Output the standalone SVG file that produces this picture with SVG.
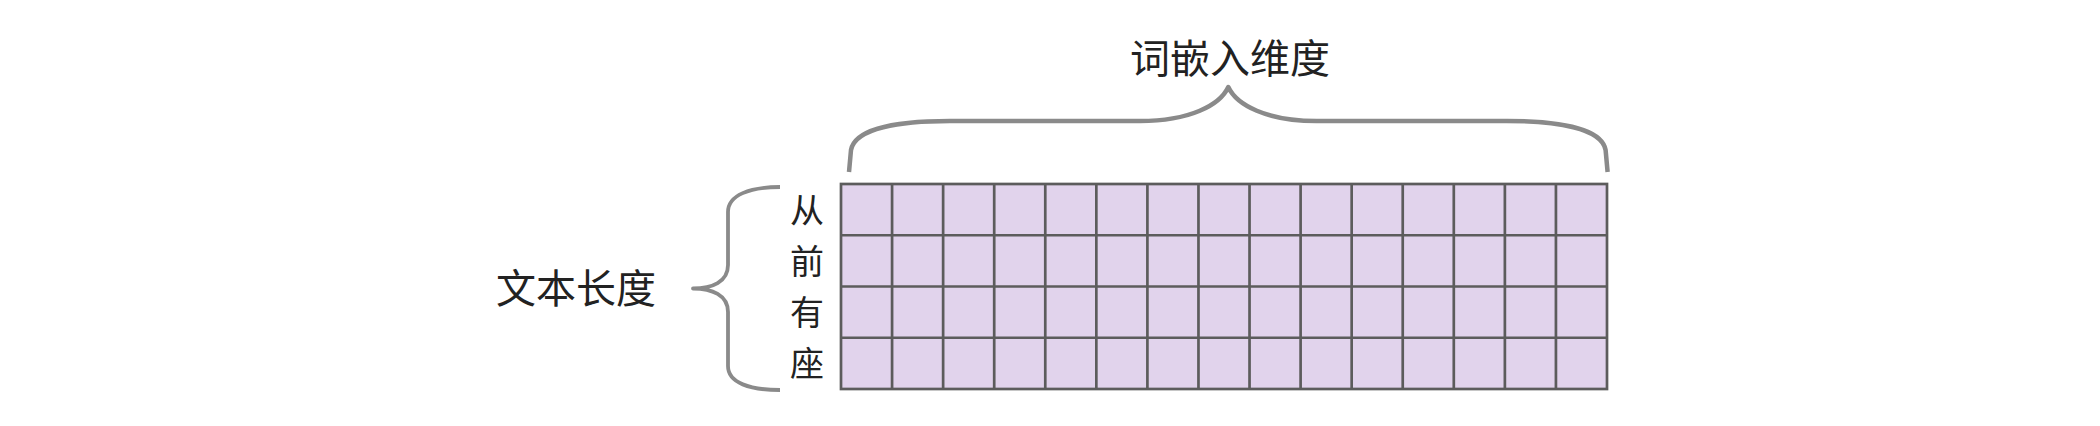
<svg xmlns="http://www.w3.org/2000/svg" width="2100" height="426" viewBox="0 0 2100 426">
<style>
.lbl{font-family:"Noto Sans CJK SC","Noto Sans",sans-serif;fill:#222;}
.big{font-size:40px;}
.vert{font-size:34px;}
.brace{fill:none;stroke:#8a8a8a;stroke-linecap:butt;stroke-linejoin:round;}
.grid{stroke:#5c5c5c;stroke-width:2.7;fill:none;}
</style>
<rect width="2100" height="426" fill="#ffffff"/>
<g id="matrix">
<rect x="841" y="184" width="766" height="205" fill="#e1d3ec"/>
<g class="grid">
<line x1="892.07" y1="184" x2="892.07" y2="389"/>
<line x1="943.13" y1="184" x2="943.13" y2="389"/>
<line x1="994.2" y1="184" x2="994.2" y2="389"/>
<line x1="1045.27" y1="184" x2="1045.27" y2="389"/>
<line x1="1096.33" y1="184" x2="1096.33" y2="389"/>
<line x1="1147.4" y1="184" x2="1147.4" y2="389"/>
<line x1="1198.47" y1="184" x2="1198.47" y2="389"/>
<line x1="1249.53" y1="184" x2="1249.53" y2="389"/>
<line x1="1300.6" y1="184" x2="1300.6" y2="389"/>
<line x1="1351.67" y1="184" x2="1351.67" y2="389"/>
<line x1="1402.73" y1="184" x2="1402.73" y2="389"/>
<line x1="1453.8" y1="184" x2="1453.8" y2="389"/>
<line x1="1504.87" y1="184" x2="1504.87" y2="389"/>
<line x1="1555.93" y1="184" x2="1555.93" y2="389"/>
<line x1="841" y1="235.25" x2="1607" y2="235.25"/>
<line x1="841" y1="286.5" x2="1607" y2="286.5"/>
<line x1="841" y1="337.75" x2="1607" y2="337.75"/>
<rect x="841" y="184" width="766" height="205"/>
</g>
</g>
<g id="row-labels" class="lbl vert" text-anchor="middle">
<text x="807" y="222.6">从</text>
<text x="807" y="273.9">前</text>
<text x="807" y="325.1">有</text>
<text x="807" y="376.4">座</text>
</g>
<g id="connectors">
<path class="brace" stroke-width="4.5" d="M849 172 L851 150 C855 128 900 121 950 121 L1140 121 C1190 121 1220 105 1228.3 87 C1236.6 105 1266.6 121 1316.6 121 L1506.6 121 C1556.6 121 1601.6 128 1605.6 150 L1607.6 172"/>
<path class="brace" stroke-width="3.8" d="M780 187 C750 187 728 195 728 212 L728 265 C728 282 712 288.5 693 288.5 C712 288.5 728 295 728 312 L728 366 C728 383 750 390 780 390"/>
</g>
<g id="label-embed">
<text class="lbl big" x="1230" y="72.5" text-anchor="middle">词嵌入维度</text>
</g>
<g id="label-length">
<text class="lbl big" x="576" y="303" text-anchor="middle">文本长度</text>
</g>
</svg>
